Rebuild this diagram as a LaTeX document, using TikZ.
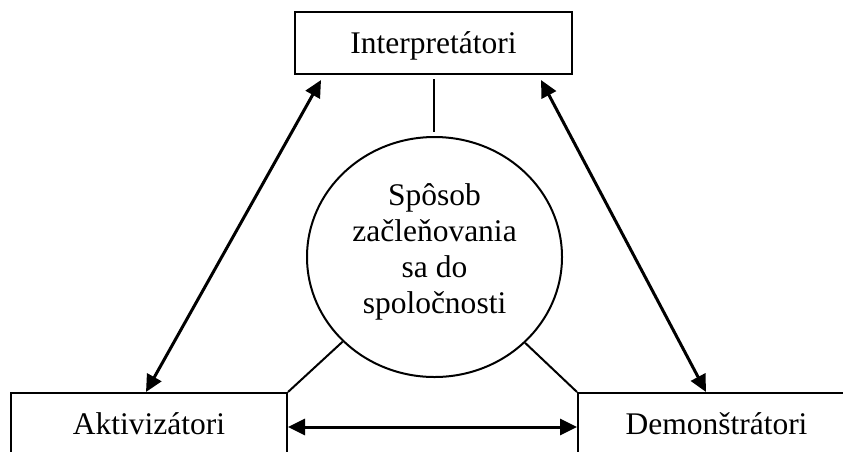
\documentclass[tikz,border=0pt]{standalone}
\usepackage{fontspec}
\setmainfont{Liberation Serif}
\usetikzlibrary{shapes.geometric,arrows.meta,calc}
\begin{document}
\begin{tikzpicture}[x=1pt,y=-1pt,
  lbl/.style={font=\fontsize{31.5}{36}\selectfont},
  box/.style={draw,line width=2pt,minimum width=277pt,minimum height=62pt,inner sep=0pt,text height=27pt,text depth=7pt,lbl},
  arr/.style={line width=3pt,{Triangle[length=17pt,width=16pt]}-{Triangle[length=17pt,width=16pt]}},
  thin/.style={line width=2pt}]
\useasboundingbox (0,0) rectangle (843,451);
\clip (0,0) rectangle (843,451);
\node[box] (I) at (433.5,43) {Interpretátori};
\node[box,minimum width=276pt] (A) at (149,424) {Aktivizátori};
\node[box] (D) at (716.5,424) {Demonštrátori};
\node[ellipse,draw,line width=2pt,minimum width=255pt,minimum height=240pt,inner sep=0pt] (C) at (434.5,257) {};
\node[lbl,align=center] (T) at (434.5,251.5) {Spôsob\\začleňovania\\sa do\\spoločnosti};
\draw[thin,shorten <=4pt,shorten >=4pt] (I.south) -- (I.south |- C.north);
\draw[thin] (A.north east) -- (C);
\draw[thin] (D.north west) -- (C);
\draw[arr] ($(A.north west)+(136,0)$) -- ($(I.south west)+(27,5)$);
\draw[arr] ($(I.south east)+(-32,5)$) -- ($(D.north west)+(129,0)$);
\draw[arr] ($(A.east)+(0,3)$) -- ($(D.west)+(0,3)$);
\end{tikzpicture}
\end{document}
